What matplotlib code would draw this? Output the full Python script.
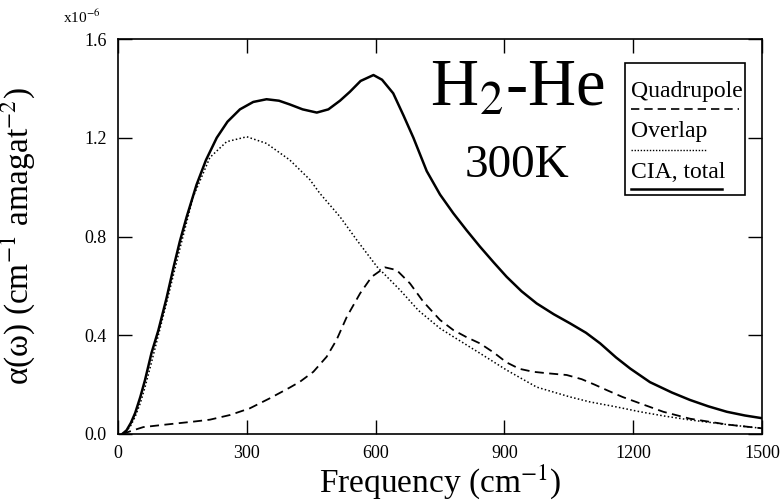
import matplotlib
matplotlib.use("Agg")
import matplotlib.pyplot as plt
from matplotlib.lines import Line2D

plt.rcParams['font.family'] = ['Liberation Serif', 'DejaVu Serif']
plt.rcParams['mathtext.fontset'] = 'stix'

# CIA, total (units of 1e-6 cm^-1 amagat^-2)
total_x = [10, 20, 30, 40, 52, 63, 78, 94, 113, 130, 144, 160, 183, 205, 230, 255,
           284, 315, 346, 375, 400, 430, 463, 490, 517, 540, 565, 595, 615, 641, 665,
           688, 719, 750, 781, 812, 843, 875, 905, 940, 975, 1015, 1053, 1090, 1123,
           1160, 1193, 1239, 1290, 1332, 1375, 1418, 1460, 1500]
total_y = [0.0, 0.015, 0.045, 0.085, 0.15, 0.219, 0.328, 0.42, 0.55, 0.68, 0.78,
           0.88, 1.01, 1.11, 1.20, 1.265, 1.315, 1.345, 1.356, 1.35, 1.335, 1.315,
           1.302, 1.315, 1.35, 1.386, 1.43, 1.454, 1.435, 1.38, 1.29, 1.20, 1.065,
           0.97, 0.894, 0.825, 0.759, 0.695, 0.637, 0.578, 0.529, 0.485, 0.448,
           0.41, 0.367, 0.31, 0.265, 0.21, 0.168, 0.138, 0.112, 0.090, 0.075, 0.064]

# Overlap
overlap_x = [10, 20, 30, 40, 52, 63, 78, 94, 113, 144, 175, 214, 253, 300, 346, 400,
             447, 470, 517, 556, 603, 657, 700, 750, 781, 843, 905, 975, 1053, 1099,
             1160, 1216, 1275, 1332, 1420, 1500]
overlap_y = [0.0, 0.012, 0.035, 0.07, 0.125, 0.19, 0.29, 0.40, 0.53, 0.75, 0.96, 1.12,
             1.184, 1.204, 1.177, 1.11, 1.03, 0.975, 0.88, 0.786, 0.678, 0.583, 0.5,
             0.428, 0.394, 0.327, 0.259, 0.19, 0.15, 0.13, 0.11, 0.09, 0.072, 0.057,
             0.038, 0.023]

# Quadrupole
quad_x = [10, 30, 59, 100, 137, 175, 214, 261, 307, 354, 400, 424, 455, 486, 509, 533,
          564, 591, 622, 649, 680, 711, 750, 781, 812, 843, 875, 905, 935, 967, 1000,
          1045, 1080, 1110, 1138, 1175, 1216, 1270, 1332, 1420, 1500]
quad_y = [0.0, 0.012, 0.028, 0.036, 0.043, 0.05, 0.058, 0.077, 0.104, 0.145, 0.188,
          0.212, 0.252, 0.313, 0.381, 0.475, 0.570, 0.637, 0.675, 0.664, 0.610, 0.536,
          0.462, 0.421, 0.392, 0.367, 0.33, 0.29, 0.264, 0.252, 0.246, 0.239, 0.222,
          0.2, 0.178, 0.15, 0.124, 0.09, 0.062, 0.038, 0.023]

xticks = [0, 300, 600, 900, 1200, 1500]
yticks = [0.0, 0.4, 0.8, 1.2, 1.6]

fig = plt.figure(figsize=(7.84, 5.0), dpi=100)
ax = fig.add_axes([0.1505, 0.132, 0.8215, 0.79])

ax.plot(total_x, total_y, color='black', lw=1.8, solid_joinstyle='round')
ax.plot(overlap_x, overlap_y, color='black', lw=1.1, linestyle=(0, (1, 1.5)))
ax.plot(quad_x, quad_y, color='black', lw=1.3, linestyle=(0, (5, 3)))

ax.set_xlim(0, 1500)
ax.set_ylim(0, 1.6)
ax.set_xticks(xticks)
ax.set_yticks(yticks)
ax.set_xticklabels([str(t) for t in xticks])
ax.set_yticklabels(['%.1f' % t for t in yticks])
ax.tick_params(direction='in', length=10, width=1, top=True, right=True,
               labelsize=13, pad=8)
for s in ax.spines.values():
    s.set_linewidth(1.2)

ax.set_xlabel('Frequency (cm$^{-1}$)', fontsize=24, labelpad=0)
ax.set_ylabel('\u03b1(\u03c9) (cm$^{-1}$ amagat$^{-2}$)', fontsize=24)
ax.yaxis.set_label_coords(-0.125, 0.5)

fig.text(0.08, 0.965, 'x10$^{-6}$', fontsize=11, ha='left', va='center')

ax.text(0.62, 0.875, 'H$_2$-He', transform=ax.transAxes, fontsize=48,
        ha='center', va='center')
ax.text(0.62, 0.68, '300K', transform=ax.transAxes, fontsize=34,
        ha='center', va='center')

# legend box drawn by hand to match the boxed sample layout
lx0, lx1 = 625 / 784, 745 / 784
ly0, ly1 = 1 - 195 / 500, 1 - 63 / 500
fig.add_artist(plt.Rectangle((lx0, ly0), lx1 - lx0, ly1 - ly0, fill=False,
                             edgecolor='black', lw=1.2, transform=fig.transFigure))
entries = [('Quadrupole', (0, (5, 3)), 1.2, 739, 92, 109),
           ('Overlap', (0, (1, 1.2)), 1.0, 706, 132, 150),
           ('CIA, total', '-', 1.8, 722, 172, 189)]
for label, ls, lw, xend, ytext, yline in entries:
    fig.text(631 / 784, 1 - ytext / 500, label, fontsize=17, ha='left', va='center')
    fig.add_artist(Line2D([631 / 784, xend / 784], [1 - yline / 500, 1 - yline / 500],
                          color='black', lw=lw, linestyle=ls,
                          transform=fig.transFigure))

fig.savefig('out.png', dpi=100)
